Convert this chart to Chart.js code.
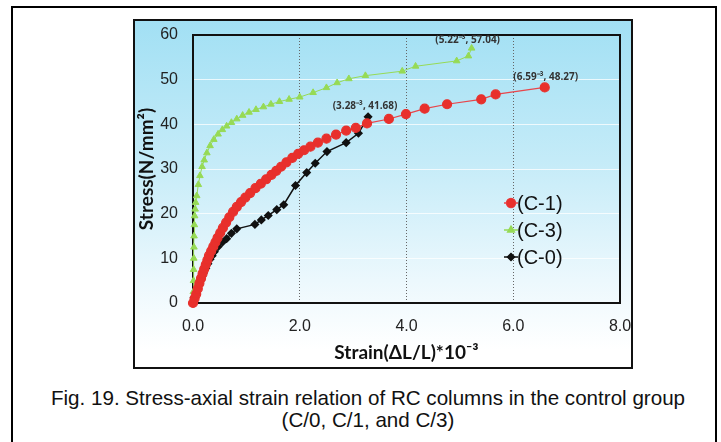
<!DOCTYPE html>
<html lang="en">
<head>
    <meta charset="UTF-8">
    <title>Stress-axial strain relation of RC columns</title>
    <script src="https://cdn.jsdelivr.net/npm/chart.js@4.4.1/dist/chart.umd.min.js"></script>
    <style>
        body {
            margin: 0;
            width: 721px;
            height: 442px;
            overflow: hidden;
            background: #fff;
            position: relative;
        }
        .frame {
            position: absolute;
            left: 11px;
            top: 6px;
            width: 702px;
            height: 460px;
            border: 2px solid #000;
        }
        .chart-box {
            position: absolute;
            left: 133px;
            top: 19px;
            width: 496px;
            height: 346px;
            border: 2px solid #111;
            background: linear-gradient(to bottom, #a2e0f4 0%, #c4ebf8 40%, #ecf8fd 75%, #ffffff 95%);
        }
        .chart-box canvas {
            position: absolute;
            left: 0;
            top: 0;
        }
        .caption {
            position: absolute;
            left: 16px;
            width: 704px;
            top: 387px;
            text-align: center;
            font-family: "Liberation Sans", Arial, sans-serif;
            font-size: 20.6px;
            line-height: 22px;
            color: #111;
        }
    </style>
</head>
<body>
    <div class="frame"></div>
    <div class="chart-box">
        <canvas id="stressChart" width="496" height="346"></canvas>
    </div>
    <div class="caption">Fig. 19. Stress-axial strain relation of RC columns in the control group<br>(C/0, C/1, and C/3)</div>

    <script>
        // C-1 (red circles)
        const c1Strain = [0, 0.03, 0.06, 0.09, 0.12, 0.15, 0.18, 0.21, 0.24, 0.27, 0.30, 0.34, 0.38, 0.42, 0.46, 0.51,
            0.56, 0.62, 0.68, 0.75, 0.82, 0.90, 0.98, 1.07, 1.17, 1.27, 1.37, 1.47, 1.56, 1.65, 1.75, 1.86,
            1.97, 2.08, 2.20, 2.34, 2.50, 2.68, 2.87, 3.05, 3.26, 3.67, 3.99, 4.34, 4.76, 5.40, 5.67, 6.59];
        const c1Stress = [0, 1.0, 2.0, 3.2, 4.4, 5.5, 6.6, 7.6, 8.6, 9.6, 10.6, 11.6, 12.6, 13.6, 14.6, 15.7,
            16.8, 18.0, 19.2, 20.4, 21.5, 22.6, 23.6, 24.6, 25.7, 26.7, 27.7, 28.7, 29.6, 30.5, 31.5, 32.5,
            33.4, 34.2, 35.0, 35.9, 36.8, 37.7, 38.6, 39.2, 40.2, 41.2, 42.3, 43.5, 44.5, 45.6, 46.7, 48.27];

        // C-3 (green triangles)
        const c3Strain = [0, 0.005, 0.01, 0.012, 0.015, 0.018, 0.02, 0.025, 0.03, 0.04, 0.05, 0.07, 0.10, 0.13, 0.17,
            0.21, 0.26, 0.32, 0.39, 0.47, 0.55, 0.63, 0.72, 0.82, 0.93, 1.05, 1.18, 1.32, 1.46, 1.62, 1.80,
            2.00, 2.25, 2.50, 2.70, 2.92, 3.23, 3.92, 4.17, 4.94, 5.16, 5.22];
        const c3Stress = [0, 2.5, 5, 7.5, 10, 12.5, 15, 17.5, 19.5, 21, 22.5, 24, 26.5, 28.5, 30.5,
            32, 33.6, 35.2, 36.6, 37.8, 38.8, 39.6, 40.4, 41.2, 42.0, 42.7, 43.3, 43.9, 44.5, 45.1, 45.6,
            46.1, 47.1, 48.2, 49.3, 50.2, 50.9, 51.9, 53.0, 54.2, 55.3, 57.04];

        // C-0 (black diamonds)
        const c0Strain = [0, 0.02, 0.05, 0.08, 0.11, 0.14, 0.17, 0.20, 0.24, 0.28, 0.32, 0.36, 0.40, 0.47, 0.55,
            0.63, 0.72, 0.82, 1.16, 1.28, 1.41, 1.57, 1.70, 1.92, 2.13, 2.29, 2.51, 2.87, 3.10, 3.28];
        const c0Stress = [0, 1.2, 2.2, 3.2, 4.2, 5.1, 6.0, 6.8, 7.8, 8.8, 9.8, 10.6, 11.5, 12.6, 13.6,
            14.4, 15.6, 16.6, 17.6, 18.6, 19.6, 20.9, 22.0, 26.3, 29.2, 31.3, 33.9, 35.9, 38.0, 41.68];

        const xTicks = [0, 2, 4, 6, 8];
        const yTicks = [0, 10, 20, 30, 40, 50, 60];

        // end-point labels
        const peakLabels = [
            { x: 5.22, y: 57.04, text: '(5.22\u207B\u00B3, 57.04)', dx: -4, dy: -8 },
            { x: 6.59, y: 48.27, text: '(6.59\u207B\u00B3, 48.27)', dx: 1, dy: -10 },
            { x: 3.28, y: 41.68, text: '(3.28\u207B\u00B3, 41.68)', dx: -3, dy: -11 }
        ];

        function toPoints(xs, ys) {
            return xs.map((x, i) => ({ x: x, y: ys[i] }));
        }

        // frame round the plot area
        const plotFrame = {
            id: 'plotFrame',
            beforeDatasetsDraw(chart) {
                const a = chart.chartArea;
                const ctx = chart.ctx;
                ctx.save();
                ctx.strokeStyle = '#111';
                ctx.lineWidth = 2;
                ctx.strokeRect(a.left, a.top, a.right - a.left, a.bottom - a.top);
                ctx.restore();
            }
        };

        // legend inside the plot plus end-point labels
        const extras = {
            id: 'extras',
            afterDraw(chart) {
                const ctx = chart.ctx;
                const a = chart.chartArea;
                const xs = chart.scales.x;
                const ys = chart.scales.y;
                ctx.save();

                ctx.font = 'bold 10px "Open Sans", sans-serif';
                ctx.fillStyle = '#333';
                ctx.textAlign = 'center';
                ctx.textBaseline = 'middle';
                peakLabels.forEach(l => {
                    ctx.fillText(l.text, xs.getPixelForValue(l.x) + l.dx, ys.getPixelForValue(l.y) + l.dy);
                });

                const mx = a.right - 109;
                chart.data.datasets.forEach((ds, k) => {
                    const y = a.top + 168 + k * 27;
                    ctx.strokeStyle = ds.borderColor;
                    ctx.lineWidth = 1.5;
                    ctx.beginPath();
                    ctx.moveTo(mx - 7, y);
                    ctx.lineTo(mx + 7, y);
                    ctx.stroke();
                    Chart.helpers.drawPoint(ctx, {
                        pointStyle: ds.pointStyle,
                        radius: ds.pointRadius,
                        borderWidth: 1
                    }, mx, y);
                    ctx.fillStyle = ds.pointBackgroundColor;
                    ctx.fill();
                    ctx.fillStyle = '#111';
                    ctx.font = '20px "Liberation Sans", Arial, sans-serif';
                    ctx.textAlign = 'left';
                    ctx.fillText(ds.label, mx + 6, y + 1);
                });
                ctx.restore();
            }
        };

        new Chart(document.getElementById('stressChart'), {
            type: 'scatter',
            data: {
                datasets: [
                    {
                        label: '(C-1)',
                        data: toPoints(c1Strain, c1Stress),
                        showLine: true,
                        borderColor: '#e8454a',
                        borderWidth: 1.2,
                        pointStyle: 'circle',
                        pointRadius: 4.5,
                        pointBackgroundColor: '#e8302c',
                        pointBorderColor: '#e8302c',
                        clip: false
                    },
                    {
                        label: '(C-3)',
                        data: toPoints(c3Strain, c3Stress),
                        showLine: true,
                        borderColor: '#96da55',
                        borderWidth: 1,
                        pointStyle: 'triangle',
                        pointRadius: 3.8,
                        pointBackgroundColor: '#96da55',
                        pointBorderColor: '#96da55',
                        clip: false
                    },
                    {
                        label: '(C-0)',
                        data: toPoints(c0Strain, c0Stress),
                        showLine: true,
                        borderColor: '#111',
                        borderWidth: 1.5,
                        pointStyle: 'rectRot',
                        pointRadius: 3.5,
                        pointBackgroundColor: '#111',
                        pointBorderColor: '#111',
                        clip: false
                    }
                ]
            },
            options: {
                responsive: false,
                animation: false,
                layout: { padding: { top: 14, right: 11, left: 0, bottom: 0 } },
                plugins: {
                    legend: { display: false },
                    tooltip: { enabled: false }
                },
                scales: {
                    x: {
                        type: 'linear',
                        min: 0,
                        max: 8,
                        afterFit(scale) {
                            scale.height = 64;
                            scale.paddingLeft = 0;
                            scale.paddingRight = 0;
                        },
                        afterBuildTicks(scale) { scale.ticks = xTicks.map(v => ({ value: v })); },
                        ticks: {
                            padding: 14,
                            color: '#222',
                            font: { family: '"Liberation Sans", Arial, sans-serif', size: 16 },
                            callback: v => v.toFixed(1)
                        },
                        grid: { color: '#666', lineWidth: 1, drawTicks: false },
                        border: { display: false, dash: [1, 2] },
                        title: {
                            display: true,
                            text: 'Strain(\u0394L/L)*10\u207B\u00B3',
                            color: '#111',
                            font: { family: 'Lato, sans-serif', size: 19, weight: 'bold' },
                            padding: { top: 0, bottom: 3 }
                        }
                    },
                    y: {
                        min: 0,
                        max: 60,
                        afterFit(scale) {
                            scale.width = 58;
                            scale.paddingTop = 0;
                            scale.paddingBottom = 0;
                        },
                        afterBuildTicks(scale) { scale.ticks = yTicks.map(v => ({ value: v })); },
                        ticks: {
                            padding: 15,
                            color: '#222',
                            font: { family: '"Liberation Sans", Arial, sans-serif', size: 16 }
                        },
                        grid: { color: 'rgba(255,255,255,0.75)', lineWidth: 1, drawTicks: false },
                        border: { display: false },
                        title: {
                            display: true,
                            text: 'Stress(N/mm\u00B2)',
                            color: '#111',
                            font: { family: 'Lato, sans-serif', size: 19, weight: 'bold' },
                            padding: { top: 0, bottom: 0 }
                        }
                    }
                }
            },
            plugins: [plotFrame, extras]
        });
    </script>
</body>
</html>
